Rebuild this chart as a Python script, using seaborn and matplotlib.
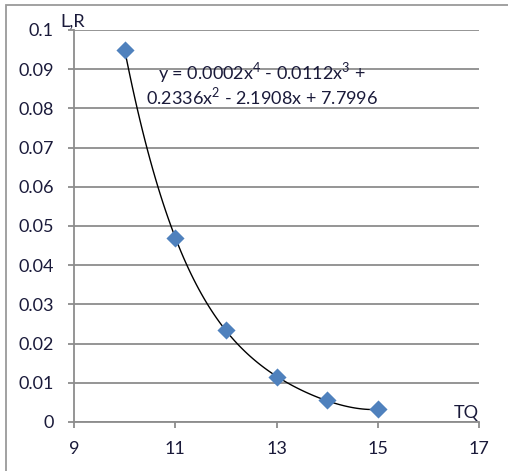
import numpy as np
import pandas as pd
import matplotlib
matplotlib.use("Agg")
import matplotlib.pyplot as plt
from matplotlib.patches import Rectangle
import seaborn as sns

# data
tq = [10, 11, 12, 13, 14, 15]
lr = [0.095, 0.047, 0.0235, 0.0115, 0.0055, 0.0032]
x_ticks = [9, 11, 13, 15, 17]
y_ticks = [0, 0.01, 0.02, 0.03, 0.04, 0.05, 0.06, 0.07, 0.08, 0.09, 0.1]
y_tick_labels = ["0", "0.01", "0.02", "0.03", "0.04", "0.05", "0.06", "0.07", "0.08", "0.09", "0.1"]
eq_line1 = "y = 0.0002x$^4$ - 0.0112x$^3$ +"
eq_line2 = "0.2336x$^2$ - 2.1908x + 7.7996"

sns.set_style("white")
plt.rcParams["font.family"] = ["Lato", "DejaVu Sans"]
plt.rcParams["mathtext.fontset"] = "custom"
plt.rcParams["mathtext.rm"] = "Lato"

df = pd.DataFrame({"TQ": tq, "LR": lr})

W, H = 508, 471
fig = plt.figure(figsize=(W / 100, H / 100), dpi=100)
ax = fig.add_axes([74 / W, 49 / H, (479 - 74) / W, (422 - 30) / H])

grid_c = "#8c8c8c"
text_c = "#1a1a3a"

# trendline (4th order polynomial) via seaborn
sns.regplot(data=df, x="TQ", y="LR", order=4, ci=None, scatter=False, truncate=True,
            line_kws={"color": "black", "lw": 1.0, "zorder": 3}, ax=ax)
# data points
sns.scatterplot(data=df, x="TQ", y="LR", marker="D", s=85, color="#4f81bd",
                edgecolor="#4f81bd", linewidth=0, zorder=4, ax=ax)

ax.set_xlim(9, 17)
ax.set_ylim(0, 0.1)
ax.set_xticks(x_ticks)
ax.set_xticklabels([str(v) for v in x_ticks])
ax.set_yticks(y_ticks)
ax.set_yticklabels(y_tick_labels)
ax.set_xlabel("")
ax.set_ylabel("")

ax.grid(axis="y", color=grid_c, lw=1.3)
ax.grid(axis="x", visible=False)
ax.set_axisbelow(True)
for s in ["top", "right"]:
    ax.spines[s].set_visible(False)
for s in ["left", "bottom"]:
    ax.spines[s].set_color(grid_c)
    ax.spines[s].set_linewidth(1.3)
ax.tick_params(axis="both", direction="out", length=4.5, width=1.3, color=grid_c,
               labelsize=13, labelcolor=text_c, left=True, bottom=True)
ax.tick_params(axis="x", pad=9)
ax.tick_params(axis="y", pad=10)

fig.text(60 / W, 1 - 27 / H, "L,R", ha="left", va="baseline", fontsize=13, color=text_c)
fig.text(479 / W, 1 - 418 / H, "TQ", ha="right", va="baseline", fontsize=13, color=text_c)

fig.text(262 / W, 1 - 72.5 / H, eq_line1, ha="center", va="center", fontsize=13, color=text_c)
fig.text(262 / W, 1 - 96.5 / H, eq_line2, ha="center", va="center", fontsize=13, color=text_c)

# outer chart frame
fig.patches.append(Rectangle((6 / W, -10 / H), (W + 20) / W, (H - 5 + 10) / H,
                             transform=fig.transFigure, fill=False,
                             edgecolor="#9a9a9a", lw=1.3))

fig.savefig("out.png", dpi=100)
